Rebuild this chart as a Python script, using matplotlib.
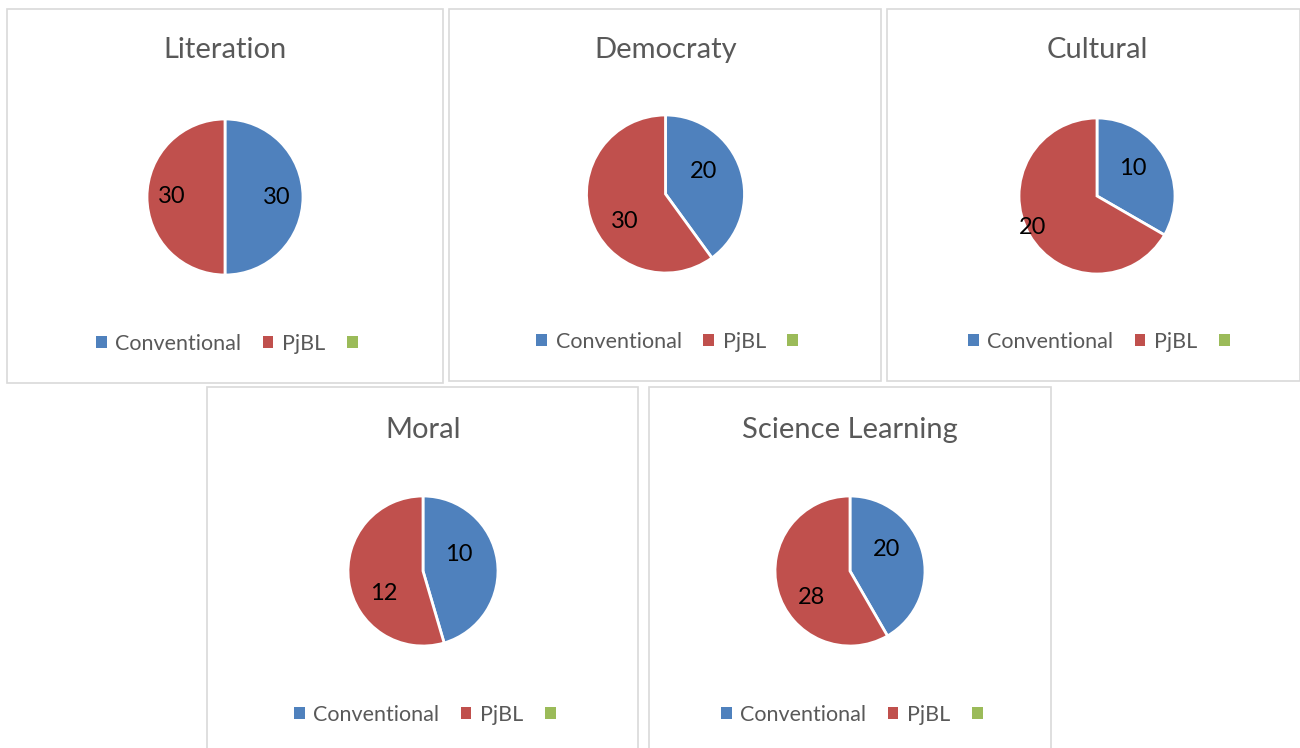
import matplotlib
matplotlib.use("Agg")
import matplotlib.pyplot as plt
from matplotlib.patches import Rectangle, Patch
import numpy as np

plt.rcParams['font.family'] = ['Lato', 'DejaVu Sans']

titles = ["Literation", "Democraty", "Cultural", "Moral", "Science Learning"]
categories = ["Conventional", "PjBL", ""]
conventional = [30, 20, 10, 10, 20]
pjbl = [30, 30, 20, 12, 28]

colors = ["#4f81bd", "#c0504d", "#9bbb59"]

W, H = 1300, 748
fig = plt.figure(figsize=(13, 7.48), dpi=100)

# layout in pixels (style only)
panels = [(7, 9, 443, 383), (449, 9, 881, 381), (887, 9, 1300, 381),
          (207, 387, 638, 760), (649, 387, 1051, 760)]
centers = [(225, 197, 78), (665.5, 194, 79), (1097, 196, 78),
           (423, 571, 75), (850, 571, 75)]
title_y = [50, 50, 50, 430, 430]
legend_y = [344, 342, 342, 715, 715]
# label placement: (angle offset in degrees, clockwise positive; radius fraction)
label_style = [((0, 0.66), (0, 0.68)),
               ((-12, 0.56), (-16, 0.63)),
               ((-8, 0.58), (4, 0.92)),
               ((-17, 0.53), (-22, 0.60)),
               ((-15, 0.56), (-20, 0.62))]

for (x0, y0, x1, y1) in panels:
    fig.patches.append(Rectangle((x0 / W, 1 - y1 / H), (x1 - x0) / W, (y1 - y0) / H,
                                 transform=fig.transFigure, facecolor='none',
                                 edgecolor='#d9d9d9', linewidth=1.2, zorder=-1))

for i, t in enumerate(titles):
    cx, cy, r = centers[i]
    ax = fig.add_axes([(cx - r) / W, 1 - (cy + r) / H, 2 * r / W, 2 * r / H])
    vals = [conventional[i], pjbl[i]]
    total = sum(vals)
    wedges, texts, autotexts = ax.pie(
        vals, colors=colors[:2], startangle=90, counterclock=False,
        autopct=lambda p, tot=total: f"{round(p * tot / 100)}",
        pctdistance=0.6,
        wedgeprops=dict(edgecolor='white', linewidth=2),
        textprops=dict(fontsize=17, color='black'))
    for w, at, (da, d) in zip(wedges, autotexts, label_style[i]):
        ang = np.deg2rad((w.theta1 + w.theta2) / 2 - da)
        at.set_position((d * np.cos(ang), d * np.sin(ang)))
    ax.set_xlim(-1.0, 1.0)
    ax.set_ylim(-1.0, 1.0)
    ax.set_aspect('equal')
    ax.axis('off')
    fig.text(cx / W, 1 - title_y[i] / H, t, ha='center', va='center',
             fontsize=21, color='#595959')
    handles = [Patch(facecolor=c, edgecolor='none') for c in colors]
    fig.legend(handles, categories, loc='center',
               bbox_to_anchor=((cx + 6) / W, 1 - legend_y[i] / H),
               ncol=3, frameon=False, fontsize=15.5, labelcolor='#595959',
               handlelength=0.5, handleheight=0.5, handletextpad=0.4,
               columnspacing=1.0)

fig.savefig("out.png", dpi=100, facecolor='white')
